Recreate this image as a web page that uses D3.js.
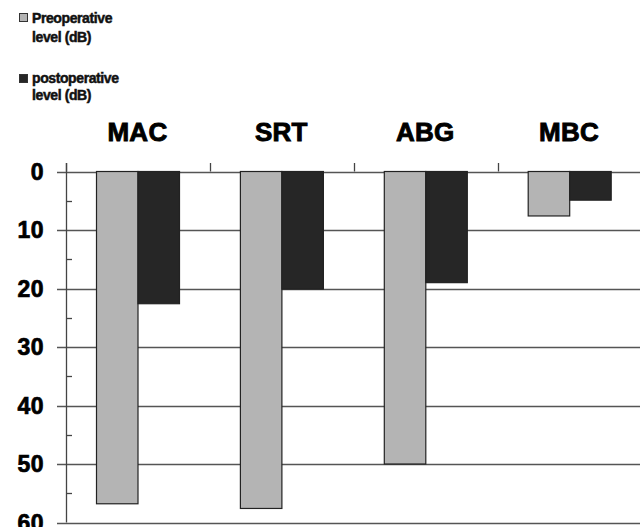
<!DOCTYPE html>
<html><head><meta charset="utf-8">
<script src="https://cdn.jsdelivr.net/npm/d3@7"></script>
<style>body{margin:0;background:#fff}svg{display:block}</style>
</head><body>
<script>
const categories = ["MAC", "SRT", "ABG", "MBC"];
const seriesNames = ["Preoperative level (dB)", "postoperative level (dB)"];
const preValues = [56.8, 57.6, 50.0, 7.6];
const postValues = [22.6, 20.1, 19.0, 4.9];
const yTicks = [0, 10, 20, 30, 40, 50, 60];
const colors = ["#b4b4b4", "#262626"];

const W = 640, H = 527;
const FONT = "Liberation Sans, Arial, sans-serif";
const svg = d3.select("body").append("svg").attr("width", W).attr("height", H);

const x0 = 66, bandW = 143.9;
const x = d3.scaleBand().domain(categories).range([x0, x0 + bandW * categories.length]).paddingInner(0).paddingOuter(0);
const xs = d3.scaleBand().domain([0, 1]).range([0, 83]);
const y = d3.scaleLinear().domain([0, 60]).range([171.5, 522.5]);

// gridlines
svg.append("g").selectAll("line").data(yTicks).join("line")
  .attr("x1", x0 - 9).attr("x2", W + 10)
  .attr("y1", d => Math.round(y(d)) + 0.5).attr("y2", d => Math.round(y(d)) + 0.5)
  .attr("stroke", "#555").attr("stroke-width", 1.3);

// minor ticks
svg.append("g").selectAll("line").data(d3.range(5, 60, 10)).join("line")
  .attr("x1", x0).attr("x2", x0 + 6)
  .attr("y1", d => Math.round(y(d)) + 0.5).attr("y2", d => Math.round(y(d)) + 0.5)
  .attr("stroke", "#444").attr("stroke-width", 1.3);

// y axis line
svg.append("line").attr("x1", x0 + 0.5).attr("x2", x0 + 0.5).attr("y1", 163).attr("y2", y(60))
  .attr("stroke", "#444").attr("stroke-width", 1.3);

// top category ticks
const bounds = categories.map(c => x(c)).concat([x0 + bandW * categories.length]);
svg.append("g").selectAll("line").data(bounds).join("line")
  .attr("x1", d => Math.round(d) + 0.5).attr("x2", d => Math.round(d) + 0.5)
  .attr("y1", 163).attr("y2", y(0))
  .attr("stroke", "#444").attr("stroke-width", 1.3);

// bars
const data = [];
categories.forEach((c, i) => {
  data.push({c, s: 0, v: preValues[i]});
  data.push({c, s: 1, v: postValues[i]});
});
svg.append("g").selectAll("rect").data(data).join("rect")
  .attr("x", d => x(d.c) + 30.5 + xs(d.s))
  .attr("width", xs.bandwidth())
  .attr("y", y(0))
  .attr("height", d => y(d.v) - y(0))
  .attr("fill", d => colors[d.s])
  .attr("stroke", "#222").attr("stroke-width", 1.2);

// y labels
svg.append("g").selectAll("text").data(yTicks).join("text")
  .attr("x", 44).attr("y", d => y(d)).attr("dy", "0.36em")
  .attr("text-anchor", "end")
  .attr("font-family", FONT).attr("font-weight", "bold")
  .attr("font-size", 23).attr("letter-spacing", 0.5)
  .attr("fill", "#000").attr("stroke", "#000").attr("stroke-width", 0.7)
  .text(d => d);

// category labels
svg.append("g").selectAll("text").data(categories).join("text")
  .attr("x", d => x(d) + x.bandwidth() / 2 - 0.5).attr("y", 141)
  .attr("text-anchor", "middle")
  .attr("font-family", FONT).attr("font-weight", "bold")
  .attr("font-size", 26).attr("letter-spacing", 0.3)
  .attr("fill", "#000").attr("stroke", "#000").attr("stroke-width", 0.9)
  .text(d => d);

// legend
const legend = svg.append("g");
const legSq = [13, 74];
const legBase = [[23, 42], [83, 100]];
seriesNames.forEach((name, i) => {
  legend.append("rect").attr("x", 19.5).attr("y", legSq[i] + 0.5).attr("width", 8).attr("height", 8)
    .attr("fill", colors[i]).attr("stroke", "#333").attr("stroke-width", 1);
  const words = name.split(" ");
  const lines = [words[0], words.slice(1).join(" ")];
  lines.forEach((l, j) => {
    legend.append("text").attr("x", 32).attr("y", legBase[i][j])
      .attr("font-family", FONT).attr("font-weight", "bold")
      .attr("font-size", 14).attr("letter-spacing", -0.4)
      .attr("fill", "#111").attr("stroke", "#111").attr("stroke-width", 0.5)
      .text(l);
  });
});
</script>
</body></html>
